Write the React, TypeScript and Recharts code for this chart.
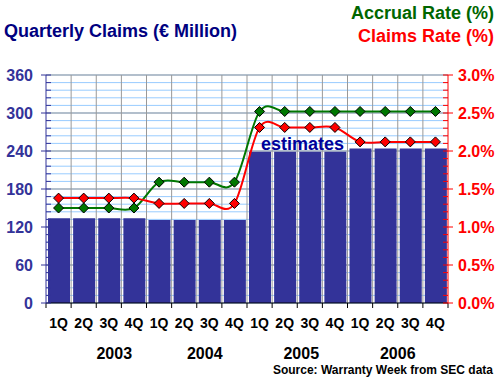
import React from 'react';
import { ComposedChart, Bar, Line, XAxis, YAxis, CartesianGrid, ReferenceLine, LabelList } from 'recharts';

const quarters = ['1Q', '2Q', '3Q', '4Q', '1Q', '2Q', '3Q', '4Q', '1Q', '2Q', '3Q', '4Q', '1Q', '2Q', '3Q', '4Q'];
const years = ['2003', '2004', '2005', '2006'];
const claims = [134, 134, 134, 134, 131, 131, 131, 131, 239, 239, 239, 239, 244, 244, 244, 244];
const accrualRate = [1.25, 1.25, 1.25, 1.25, 1.59, 1.59, 1.59, 1.59, 2.52, 2.52, 2.52, 2.52, 2.52, 2.52, 2.52, 2.52];
const claimsRate = [1.38, 1.38, 1.38, 1.38, 1.31, 1.31, 1.31, 1.31, 2.31, 2.31, 2.31, 2.31, 2.12, 2.12, 2.12, 2.12];
const leftTicks = Array.from({ length: 31 }, (_, i) => i * 12);
const leftMajor = [60, 120, 180, 240, 300, 360];
const rightTicks = Array.from({ length: 31 }, (_, i) => i / 10);

const data = quarters.map((q, i) => ({
  key: `${years[Math.floor(i / 4)]} ${q}`,
  claims: claims[i],
  accrual: accrualRate[i],
  rate: claimsRate[i],
}));

const W = 500;
const H = 385;
const LEFT_W = 46;
const RIGHT_W = 52;
const PLOT_W = W - LEFT_W - RIGHT_W;
const FONT = 'Arial, "Liberation Sans", sans-serif';
// the original's year labels sit a bit right of their group centre
const YEAR_NUDGE = [18, 8, 4, 0];

// excel-style smoothed line (catmull-rom through the points)
const smoothCurve = (context: any) => {
  let pts: number[][] = [];
  return {
    areaStart() {},
    areaEnd() {},
    lineStart() {
      pts = [];
    },
    point(x: number, y: number) {
      pts.push([+x, +y]);
    },
    lineEnd() {
      const n = pts.length;
      if (!n) return;
      context.moveTo(pts[0][0], pts[0][1]);
      for (let i = 0; i < n - 1; i++) {
        const p0 = pts[Math.max(i - 1, 0)];
        const p1 = pts[i];
        const p2 = pts[i + 1];
        const p3 = pts[Math.min(i + 2, n - 1)];
        context.bezierCurveTo(
          p1[0] + (p2[0] - p0[0]) / 6,
          p1[1] + (p2[1] - p0[1]) / 6,
          p2[0] - (p3[0] - p1[0]) / 6,
          p2[1] - (p3[1] - p1[1]) / 6,
          p2[0],
          p2[1]
        );
      }
    },
  };
};

const diamond = (fill: string) => (props: any) => {
  const { cx, cy, index } = props;
  const r = 5;
  return (
    <polygon
      key={`d-${fill}-${index}`}
      points={`${cx},${cy - r} ${cx + r},${cy} ${cx},${cy + r} ${cx - r},${cy}`}
      fill={fill}
      stroke="#000"
      strokeWidth={1}
    />
  );
};

const QuarterTick = (props: any) => {
  const { x, y, payload } = props;
  const i = payload.index;
  const bw = PLOT_W / quarters.length;
  const yr = Math.floor(i / 4);
  return (
    <g>
      <line x1={x - bw / 2} y1={y} x2={x - bw / 2} y2={y + 5} stroke="#000" />
      {i === quarters.length - 1 && <line x1={x + bw / 2} y1={y} x2={x + bw / 2} y2={y + 5} stroke="#000" />}
      <text x={x} y={y + 25} textAnchor="middle" fontSize={14} fontWeight="bold" fill="#000" fontFamily={FONT}>
        {quarters[i]}
      </text>
      {i % 4 === 1 && (
        <text
          x={x + bw / 2 + YEAR_NUDGE[yr]}
          y={y + 56}
          textAnchor="middle"
          fontSize={16}
          fontWeight="bold"
          fill="#000"
          fontFamily={FONT}
        >
          {years[yr]}
        </text>
      )}
    </g>
  );
};

// major ticks cross the axis, minor ticks point into the plot
const LeftTick = (props: any) => {
  const { y, payload } = props;
  const v = payload.value;
  const major = v % 60 === 0;
  return (
    <g>
      <line x1={major ? LEFT_W - 5 : LEFT_W} y1={y} x2={LEFT_W + 5} y2={y} stroke="#333399" />
      {major && (
        <text x={LEFT_W - 13} y={y} dy="0.36em" textAnchor="end" fontSize={16} fontWeight="bold" fill="#333399" fontFamily={FONT}>
          {v}
        </text>
      )}
    </g>
  );
};

const RightTick = (props: any) => {
  const { y, payload } = props;
  const v = payload.value;
  const major = Math.round(v * 10) % 5 === 0;
  const ax = W - RIGHT_W;
  return (
    <g>
      <line x1={ax - 5} y1={y} x2={major ? ax + 5 : ax} y2={y} stroke="#ff0000" />
      {major && (
        <text x={ax + 10} y={y} dy="0.36em" textAnchor="start" fontSize={16} fontWeight="bold" fill="#ff0000" fontFamily={FONT}>
          {`${v.toFixed(1)}%`}
        </text>
      )}
    </g>
  );
};

const estimatesLabel = (props: any) => {
  const { x, y, width, index } = props;
  if (index !== 8) return null;
  return (
    <text x={x + width / 2 + 1} y={y - 2} fontSize={18} fontWeight="bold" fill="#000099" fontFamily={FONT}>
      estimates
    </text>
  );
};

export default function App() {
  return (
    <div style={{ position: 'absolute', left: 0, top: 0, width: W, height: H, background: '#fff', fontFamily: FONT }}>
      <ComposedChart width={W} height={H} data={data} margin={{ top: 75, right: 0, bottom: 0, left: 0 }}>
        <CartesianGrid yAxisId="left" vertical={false} stroke="#99ccff" />
        {leftMajor.map((v) => (
          <ReferenceLine key={`h${v}`} yAxisId="left" y={v} stroke="#999999" zIndex={-50} />
        ))}
        {data.slice(1).map((d) => (
          <ReferenceLine key={`v${d.key}`} yAxisId="left" x={d.key} position="start" stroke="#999999" zIndex={-50} />
        ))}
        <XAxis
          dataKey="key"
          interval={0}
          height={H - 303}
          tickSize={0}
          tickMargin={0}
          tick={<QuarterTick />}
          axisLine={{ stroke: '#000' }}
          tickLine={false}
        />
        <YAxis
          yAxisId="left"
          width={LEFT_W}
          domain={[0, 360]}
          ticks={leftTicks}
          interval={0}
          tick={<LeftTick />}
          axisLine={{ stroke: '#333399' }}
          tickLine={false}
        />
        <YAxis
          yAxisId="right"
          orientation="right"
          width={RIGHT_W}
          domain={[0, 3]}
          ticks={rightTicks}
          interval={0}
          tick={<RightTick />}
          axisLine={{ stroke: '#ff0000' }}
          tickLine={false}
        />
        <Bar yAxisId="left" dataKey="claims" fill="#333399" barSize={22} isAnimationActive={false}>
          <LabelList dataKey="claims" content={estimatesLabel} />
        </Bar>
        <Line
          yAxisId="right"
          dataKey="accrual"
          type={smoothCurve as any}
          stroke="#007700"
          strokeWidth={2}
          dot={diamond('#007700')}
          isAnimationActive={false}
        />
        <Line
          yAxisId="right"
          dataKey="rate"
          type={smoothCurve as any}
          stroke="#ff0000"
          strokeWidth={2}
          dot={diamond('#ff0000')}
          isAnimationActive={false}
        />
      </ComposedChart>
      <svg width={W} height={H} style={{ position: 'absolute', left: 0, top: 0, pointerEvents: 'none' }}>
        <text x={4} y={37} fontSize={18} fontWeight="bold" fill="#000080" fontFamily={FONT}>
          Quarterly Claims (€ Million)
        </text>
        <text x={494} y={18.5} textAnchor="end" fontSize={18} fontWeight="bold" fill="#006600" fontFamily={FONT}>
          Accrual Rate (%)
        </text>
        <text x={494} y={41.5} textAnchor="end" fontSize={18} fontWeight="bold" fill="#ff0000" fontFamily={FONT}>
          Claims Rate (%)
        </text>
        <text x={493} y={374} textAnchor="end" fontSize={12} fontWeight="bold" fill="#000" fontFamily={FONT}>
          Source: Warranty Week from SEC data
        </text>
      </svg>
    </div>
  );
}
